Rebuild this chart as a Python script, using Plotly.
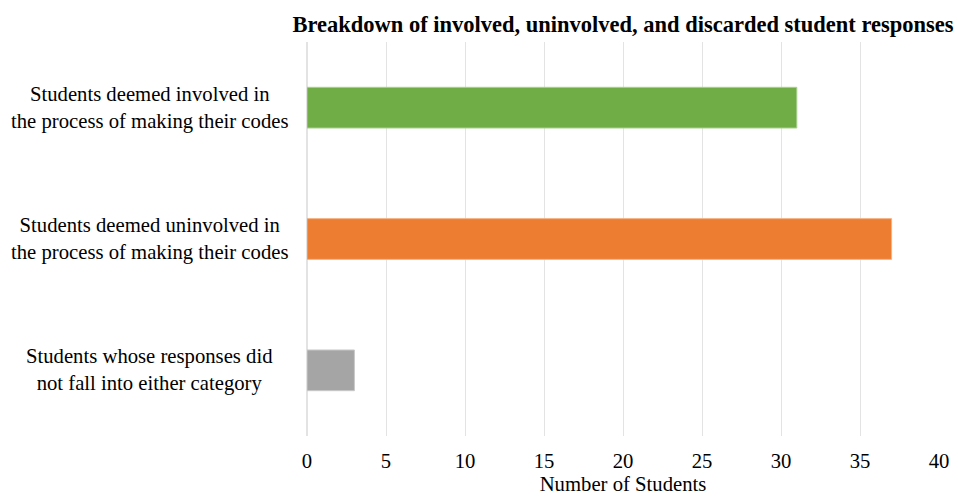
import plotly.graph_objects as go

categories = [
    "Students deemed involved in<br>the process of making their codes",
    "Students deemed uninvolved in<br>the process of making their codes",
    "Students whose responses did<br>not fall into either category",
]
values = [31, 37, 3]
colors = ["#70AD47", "#ED7D31", "#A5A5A5"]
outline = ["#A9D18E", "#F4B183", "#C9C9C9"]
tick_vals = [0, 5, 10, 15, 20, 25, 30, 35, 40]

FONT = "Liberation Serif, Times New Roman, serif"

fig = go.Figure()
fig.add_trace(go.Bar(
    x=values, y=categories, orientation="h",
    marker=dict(color=colors, line=dict(color=outline, width=1)),
    width=0.31,
))

for cat in categories:
    fig.add_annotation(
        x=-0.249, xref="paper", y=cat, yref="y",
        text=cat, showarrow=False, xanchor="center", yanchor="middle",
        align="center", font=dict(family=FONT, size=20.7, color="#000000"),
    )

fig.update_layout(
    width=958, height=496,
    margin=dict(l=307, r=19, t=42, b=60, autoexpand=False),
    paper_bgcolor="white", plot_bgcolor="white",
    showlegend=False,
    font=dict(family=FONT, size=20.7, color="#000000"),
    title=dict(
        text="<b>Breakdown of involved, uninvolved, and discarded student responses</b>",
        xref="paper", x=0.5, xanchor="center", y=0.952, yanchor="middle",
        font=dict(family=FONT, size=22.5, color="#000000"),
    ),
    xaxis=dict(
        range=[0, 40], tickvals=tick_vals, showgrid=True, automargin=False,
        gridcolor="#E3E3E3", gridwidth=1, zeroline=True, zerolinecolor="#E3E3E3",
        showline=False, ticks="outside", ticklen=6, tickcolor="rgba(0,0,0,0)",
        tickfont=dict(family=FONT, size=20.7),
        title=dict(text="Number of Students", font=dict(family=FONT, size=20.7), standoff=5),
        fixedrange=True,
    ),
    yaxis=dict(
        categoryorder="array", categoryarray=categories, autorange="reversed",
        showticklabels=False, showgrid=False, zeroline=False, showline=False,
        automargin=False,
    ),
)

fig.write_html("out.html")
